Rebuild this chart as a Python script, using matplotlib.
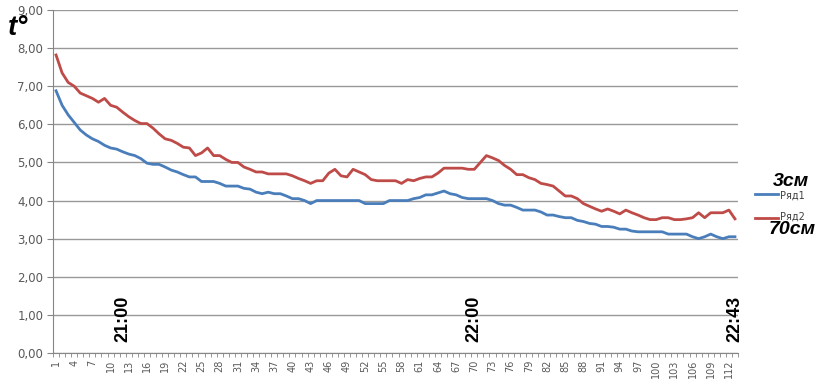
import matplotlib
matplotlib.use("Agg")
import matplotlib.pyplot as plt
import numpy as np

series1 = [6.88, 6.50, 6.25, 6.05, 5.85, 5.72, 5.62, 5.55, 5.45, 5.38,
           5.35, 5.28, 5.22, 5.18, 5.10, 4.98, 4.95, 4.95, 4.88, 4.80,
           4.75, 4.68, 4.62, 4.62, 4.50, 4.50, 4.50, 4.45, 4.38, 4.38,
           4.38, 4.32, 4.30, 4.22, 4.18, 4.22, 4.18, 4.18, 4.12, 4.05,
           4.05, 4.00, 3.92, 4.00, 4.00, 4.00, 4.00, 4.00, 4.00, 4.00,
           4.00, 3.92, 3.92, 3.92, 3.92, 4.00, 4.00, 4.00, 4.00, 4.05,
           4.08, 4.15, 4.15, 4.20, 4.25, 4.18, 4.15, 4.08, 4.05, 4.05,
           4.05, 4.05, 4.00, 3.92, 3.88, 3.88, 3.82, 3.75, 3.75, 3.75,
           3.70, 3.62, 3.62, 3.58, 3.55, 3.55, 3.48, 3.45, 3.40, 3.38,
           3.32, 3.32, 3.30, 3.25, 3.25, 3.20, 3.18, 3.18, 3.18, 3.18,
           3.18, 3.12, 3.12, 3.12, 3.12, 3.05, 3.00, 3.05, 3.12, 3.05,
           3.00, 3.05, 3.05]
series2 = [7.82, 7.35, 7.10, 7.00, 6.82, 6.75, 6.68, 6.58, 6.68, 6.50,
           6.45, 6.32, 6.20, 6.10, 6.02, 6.02, 5.90, 5.75, 5.62, 5.58,
           5.50, 5.40, 5.38, 5.18, 5.25, 5.38, 5.18, 5.18, 5.08, 5.00,
           5.00, 4.88, 4.82, 4.75, 4.75, 4.70, 4.70, 4.70, 4.70, 4.65,
           4.58, 4.52, 4.45, 4.52, 4.52, 4.72, 4.82, 4.65, 4.62, 4.82,
           4.75, 4.68, 4.55, 4.52, 4.52, 4.52, 4.52, 4.45, 4.55, 4.52,
           4.58, 4.62, 4.62, 4.72, 4.85, 4.85, 4.85, 4.85, 4.82, 4.82,
           5.00, 5.18, 5.12, 5.05, 4.92, 4.82, 4.68, 4.68, 4.60, 4.55,
           4.45, 4.42, 4.38, 4.25, 4.12, 4.12, 4.05, 3.92, 3.85, 3.78,
           3.72, 3.78, 3.72, 3.65, 3.75, 3.68, 3.62, 3.55, 3.50, 3.50,
           3.55, 3.55, 3.50, 3.50, 3.52, 3.55, 3.68, 3.55, 3.68, 3.68,
           3.68, 3.75, 3.52]
categories = list(range(1, len(series1) + 1))
x_tick_labels = [str(c) for c in categories[::3]]
y_ticks = [0, 1, 2, 3, 4, 5, 6, 7, 8, 9]
y_tick_labels = [f"{v},00" for v in y_ticks]
series_names = ["Ряд1", "Ряд2"]
depth_labels = ["3см", "70см"]
time_marks = [(12, "21:00"), (70, "22:00"), (113, "22:43")]

plt.rcParams["font.family"] = ["Liberation Sans", "DejaVu Sans"]

fig = plt.figure(figsize=(8.2, 3.91), dpi=100)
ax = fig.add_axes([53/820, 1-353/391, (738-53)/820, (353-10)/391])

c1 = "#4A7EBB"
c2 = "#BE4B48"
ax.plot(categories, series1, color=c1, lw=2.0, solid_joinstyle="round")
ax.plot(categories, series2, color=c2, lw=2.0, solid_joinstyle="round")

n = len(categories)
ax.set_xlim(0.5, n + 0.5)
ax.set_ylim(0, 9)
ax.set_yticks(y_ticks)
ax.set_yticklabels(y_tick_labels, fontsize=8.5, color="#595959",
                   family=["DejaVu Sans"])
ax.tick_params(axis="y", length=4, color="#868686", pad=3)
ax.yaxis.grid(True, color="#999999", lw=1.0)
ax.set_axisbelow(True)

ax.set_xticks(categories[::3])
ax.set_xticklabels(x_tick_labels, rotation=90, fontsize=7, color="#595959",
                   family=["DejaVu Sans"])
ax.tick_params(axis="x", which="major", length=0, pad=5)
ax.set_xticks(np.arange(0.5, n + 1, 1.0), minor=True)
ax.tick_params(axis="x", which="minor", length=3, color="#868686")

for s in ["top", "right"]:
    ax.spines[s].set_visible(False)
for s in ["left", "bottom"]:
    ax.spines[s].set_color("#868686")

for xc, lab in time_marks:
    ax.text(xc, 0.3, lab, rotation=90, fontsize=13, fontweight="bold",
            ha="center", va="bottom", color="black")

fig.text(8/820, 1-28/391, "t°", fontsize=20, fontweight="bold",
         fontstyle="italic", va="center", ha="left")

# legend
fig.add_artist(plt.Line2D([755/820, 778/820], [1-194/391, 1-194/391],
                          color=c1, lw=2.0))
fig.add_artist(plt.Line2D([755/820, 778/820], [1-218/391, 1-218/391],
                          color=c2, lw=2.0))
fig.text(780/820, 1-196/391, series_names[0], fontsize=7, color="#404040",
         va="center", ha="left", family=["DejaVu Sans"])
fig.text(780/820, 1-217/391, series_names[1], fontsize=7, color="#404040",
         va="center", ha="left", family=["DejaVu Sans"])
fig.text(809/820, 1-182/391, depth_labels[0], fontsize=14, fontweight="bold",
         fontstyle="italic", va="center", ha="right")
fig.text(816/820, 1-230/391, depth_labels[1], fontsize=14, fontweight="bold",
         fontstyle="italic", va="center", ha="right")

fig.savefig("out.png", dpi=100)
